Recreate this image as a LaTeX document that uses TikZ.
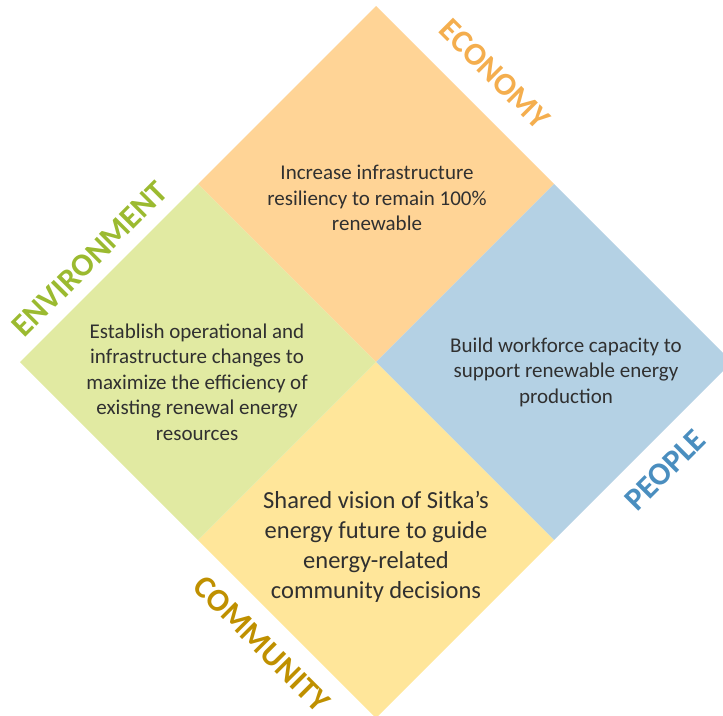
\documentclass[tikz,border=0pt]{standalone}
\usepackage{fontspec}
\setmainfont{Carlito}
\definecolor{orfill}{HTML}{FFD496}
\definecolor{blfill}{HTML}{B4D1E4}
\definecolor{grfill}{HTML}{E1EAA2}
\definecolor{yefill}{HTML}{FFE69A}
\definecolor{orlab}{HTML}{F4AE4E}
\definecolor{bllab}{HTML}{4A8EBF}
\definecolor{grlab}{HTML}{9BBA30}
\definecolor{yelab}{HTML}{BF9000}
\definecolor{bodytxt}{HTML}{303030}
\begin{document}
\begin{tikzpicture}[x=1pt,y=-1pt,
  body/.style={text=bodytxt,align=center,font=\fontsize{21}{25.5}\selectfont},
  bigbody/.style={text=bodytxt,align=center,font=\fontsize{24.5}{30}\selectfont},
  lab/.style={font=\fontsize{32}{32}\bfseries\selectfont,inner sep=0pt}]
\useasboundingbox (0,0) rectangle (723,715);
\def\h{178}
% tiles
\fill[orfill] (376,362) -- ++(-\h,-\h) -- ++(\h,-\h) -- ++(\h,\h) -- cycle;
\fill[blfill] (376,362) -- ++(\h,-\h) -- ++(\h,\h) -- ++(-\h,\h) -- cycle;
\fill[yefill] (376,362) -- ++(\h,\h) -- ++(-\h,\h) -- ++(-\h,-\h) -- cycle;
\fill[grfill] (376,362) -- ++(-\h,\h) -- ++(-\h,-\h) -- ++(\h,-\h) -- cycle;
% body texts
\node[body] (eco) at (377,198) {Increase infrastructure\\resiliency to remain 100\%\\renewable};
\node[body] (env) at (197,382) {Establish operational and\\infrastructure changes to\\maximize the efficiency of\\existing renewal energy\\resources};
\node[body] (peo) at (566,372) {Build workforce capacity to\\support renewable energy\\production};
\node[bigbody] (com) at (376,547) {Shared vision of Sitka’s\\energy future to guide\\energy-related\\community decisions};
% labels
\node[lab,text=orlab,rotate=-45] (ecol) at (495,74) {ECONOMY};
\node[lab,text=grlab,rotate=45] (envl) at (90,259) {ENVIRONMENT};
\node[lab,text=bllab,rotate=45] (peol) at (665,470) {PEOPLE};
\node[lab,text=yelab,rotate=-45] (coml) at (262,644) {COMMUNITY};
\end{tikzpicture}
\end{document}
